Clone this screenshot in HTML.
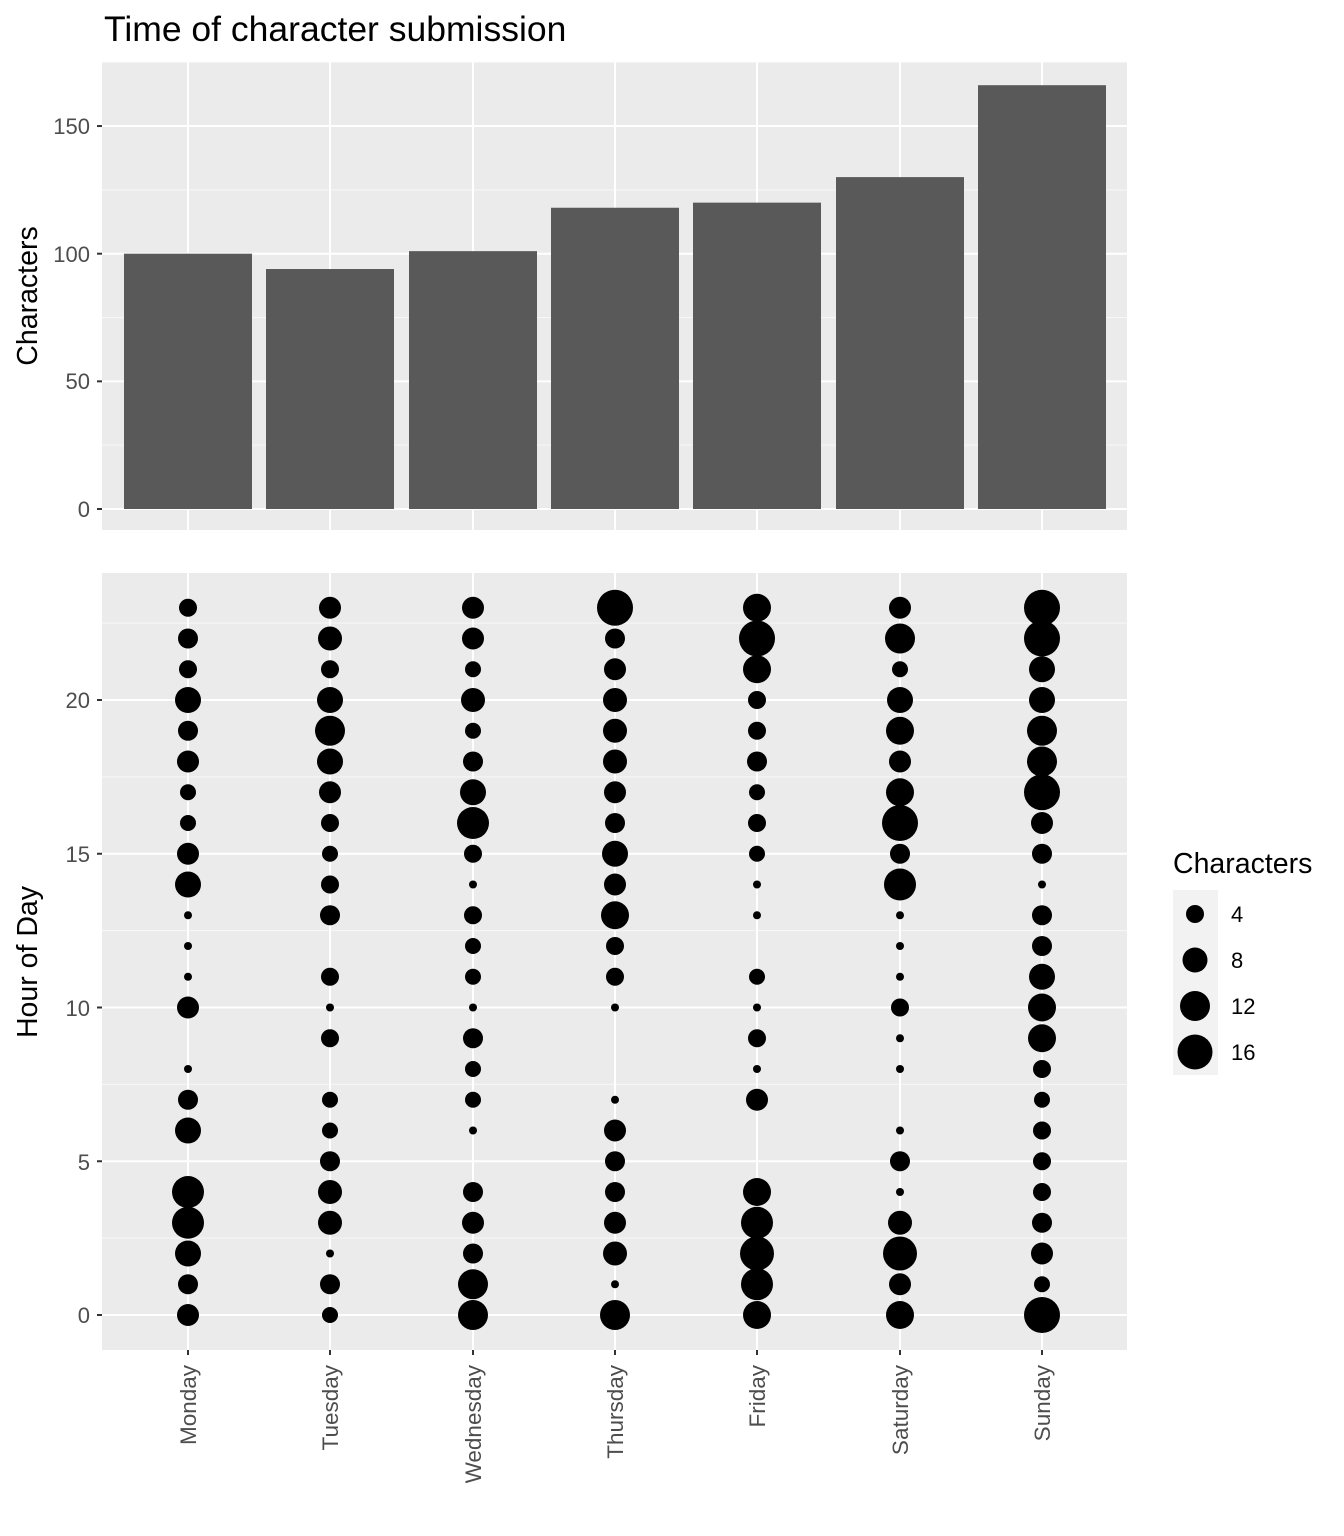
<!DOCTYPE html>
<html><head><meta charset="utf-8"><style>
html,body{margin:0;padding:0;background:#fff}
svg{display:block;font-family:"Liberation Sans",Arial,sans-serif}
</style></head><body>
<svg id="s" width="1344" height="1536" viewBox="0 0 1344 1536" xmlns="http://www.w3.org/2000/svg">
<rect width="1344" height="1536" fill="#fff"/>
<text x="104" y="41" font-size="35.5" fill="#000">Time of character submission</text>
<rect x="102" y="62" width="1025" height="468" fill="#ebebeb"/>
<rect x="102" y="573" width="1025" height="777" fill="#ebebeb"/>
<g id="grid"></g>
<g id="bars" fill="#595959"></g>
<g id="dots" fill="#000"></g>
<g font-size="22" fill="#4d4d4d" text-anchor="end">
<text x="90" y="517">0</text><text x="90" y="389">50</text><text x="90" y="262">100</text><text x="90" y="134">150</text>
<text x="90" y="1323">0</text><text x="90" y="1170">5</text><text x="90" y="1016">10</text><text x="90" y="862">15</text><text x="90" y="708">20</text>
</g>
<g id="ticks" stroke="#333" stroke-width="2"></g>
<g font-size="22.5" fill="#4d4d4d" text-anchor="end">
<text transform="translate(196,1365) rotate(-90)">Monday</text>
<text transform="translate(338,1365) rotate(-90)">Tuesday</text>
<text transform="translate(481,1365) rotate(-90)">Wednesday</text>
<text transform="translate(623,1365) rotate(-90)">Thursday</text>
<text transform="translate(765,1365) rotate(-90)">Friday</text>
<text transform="translate(908,1365) rotate(-90)">Saturday</text>
<text transform="translate(1050,1365) rotate(-90)">Sunday</text>
</g>
<text transform="translate(37,296) rotate(-90)" font-size="28.5" text-anchor="middle" fill="#000">Characters</text>
<text transform="translate(37,962) rotate(-90)" font-size="28.5" text-anchor="middle" fill="#000">Hour of Day</text>
<text x="1173" y="873" font-size="28.5" fill="#000">Characters</text>
<rect x="1173" y="890" width="45" height="185" fill="#f2f2f2"/>
<circle cx="1195" cy="914" r="9"/><circle cx="1195" cy="960" r="12.5"/><circle cx="1195" cy="1006" r="15"/><circle cx="1195" cy="1052" r="17.5"/>
<g font-size="22" fill="#000"><text x="1231" y="922">4</text><text x="1231" y="968">8</text><text x="1231" y="1014">12</text><text x="1231" y="1060">16</text></g>
</svg>
<script>
const NS="http://www.w3.org/2000/svg";
function el(p,t,a){const e=document.createElementNS(NS,t);for(const k in a)e.setAttribute(k,a[k]);document.getElementById(p).appendChild(e);}
const xs=[188,330,473,615,757,900,1042];
for(const v of [25,75,125,175]){const y=509-v*2.553;if(y>62)el("grid","line",{x1:102,x2:1127,y1:y,y2:y,stroke:"#f7f7f7","stroke-width":1});}
for(const v of [0,50,100,150]){const y=509-v*2.553;el("grid","line",{x1:102,x2:1127,y1:y,y2:y,stroke:"#fff","stroke-width":2});el("ticks","line",{x1:97,x2:102,y1:y,y2:y});}
const Y=h=>1315-h*30.75;
for(let h=2.5;h<24;h+=5)el("grid","line",{x1:102,x2:1127,y1:Y(h),y2:Y(h),stroke:"#f7f7f7","stroke-width":1});
for(const h of [0,5,10,15,20]){el("grid","line",{x1:102,x2:1127,y1:Y(h),y2:Y(h),stroke:"#fff","stroke-width":2});el("ticks","line",{x1:97,x2:102,y1:Y(h),y2:Y(h)});}
for(const x of xs){el("grid","line",{x1:x,x2:x,y1:62,y2:530,stroke:"#fff","stroke-width":2});el("grid","line",{x1:x,x2:x,y1:573,y2:1350,stroke:"#fff","stroke-width":2});el("ticks","line",{x1:x,x2:x,y1:1350,y2:1355});}
const vals=[100,94,101,118,120,130,166];
vals.forEach((v,i)=>{const y=509-v*2.553;el("bars","rect",{x:xs[i]-64,y:y,width:128,height:509-y});});
const R=[
[11,10,13,16,16,0,13,10,4,0,11,4,4,4,13,11,8,8,11,10,13,9,10,9],
[8,10,4,12,12,10,8,8,0,9,4,9,0,10,9,8,9,11,13,15,13,9,12,11],
[15,15,10,11,10,0,4,8,8,10,4,8,8,9,4,9,16,13,10,8,12,8,11,11],
[15,4,12,11,10,10,11,4,0,0,4,9,9,14,11,13,10,11,12,12,12,11,10,18],
[14,16,17,16,14,0,0,11,4,9,4,8,0,4,4,8,9,8,10,9,9,14,18,14],
[14,11,17,12,4,10,4,0,4,4,9,4,4,4,16,10,18,14,11,14,13,8,15,11],
[18,8,11,10,9,9,9,8,9,14,14,13,10,10,4,10,11,18,15,15,13,13,18,18]];
R.forEach((d,i)=>d.forEach((r,h)=>{if(r)el("dots","circle",{cx:xs[i],cy:Y(h),r:r});}));
</script>
</body></html>
